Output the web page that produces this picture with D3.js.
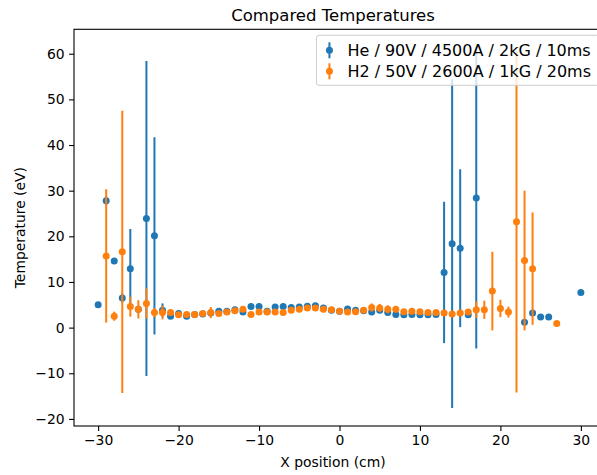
<!DOCTYPE html>
<html>
<head>
<meta charset="utf-8">
<script src="https://cdn.jsdelivr.net/npm/d3@7"></script>
<style>
  body { margin: 0; background: #fff; }
  svg { display: block; font-family: 'DejaVu Sans', sans-serif; }
</style>
</head>
<body>
<svg id="chart" width="597" height="475"></svg>
<script>
// He / 90V / 4500A / 2kG / 10ms
let heX = [-30, -29, -28, -27, -26, -25, -24, -23, -22, -21, -20, -19, -18, -17, -16, -15, -14, -13, -12, -11, -10, -9, -8, -7, -6, -5, -4, -3, -2, -1, 0, 1, 2, 3, 4, 5, 6, 7, 8, 9, 10, 11, 12, 13, 14, 15, 16, 17, 23, 24, 25, 26, 30]
let heT = [5.0, 27.8, 14.6, 6.5, 12.9, 4.0, 23.9, 20.1, 3.8, 2.5, 3.1, 2.5, 2.9, 3.0, 3.2, 3.6, 3.6, 3.9, 3.4, 4.6, 4.6, 3.6, 4.5, 4.6, 4.4, 4.5, 4.7, 4.8, 4.3, 3.8, 3.6, 4.1, 3.8, 3.7, 3.4, 3.8, 3.3, 2.9, 2.8, 2.9, 2.8, 2.8, 2.9, 12.1, 18.4, 17.4, 2.8, 28.4, 1.2, 3.2, 2.3, 2.3, 7.7]
let heErr = [0.4, 1.0, 0.5, 1.0, 8.7, 0.8, 34.5, 21.6, 1.5, 0.4, 0.4, 0.3, 0.3, 0.3, 0.3, 0.3, 0.3, 0.3, 0.3, 0.3, 0.3, 0.3, 0.3, 0.3, 0.3, 0.3, 0.3, 0.3, 0.3, 0.3, 0.3, 0.3, 0.3, 0.3, 0.3, 0.3, 0.3, 0.3, 0.3, 0.3, 0.3, 0.3, 0.3, 15.5, 36.0, 17.3, 0.4, 33.0, 0.5, 0.5, 0.3, 0.3, 0.3]

// H2 / 50V / 2600A / 1kG / 20ms
let h2X = [-29, -28, -27, -26, -25, -24, -23, -22, -21, -20, -19, -18, -17, -16, -15, -14, -13, -12, -11, -10, -9, -8, -7, -6, -5, -4, -3, -2, -1, 0, 1, 2, 3, 4, 5, 6, 7, 8, 9, 10, 11, 12, 13, 14, 15, 16, 17, 18, 19, 20, 21, 22, 23, 24, 27]
let h2T = [15.7, 2.5, 16.6, 4.6, 4.0, 5.3, 3.3, 3.3, 3.3, 2.8, 2.9, 2.9, 3.1, 3.3, 3.1, 3.4, 3.7, 4.0, 2.9, 3.4, 3.4, 3.4, 3.3, 3.8, 4.0, 4.3, 4.3, 4.0, 3.9, 3.6, 3.4, 3.5, 3.8, 4.4, 4.3, 4.0, 4.0, 3.5, 3.6, 3.5, 3.3, 3.3, 3.2, 3.0, 3.2, 3.4, 3.9, 3.9, 8.0, 4.2, 3.4, 23.2, 14.7, 12.9, 0.9]
let h2Err = [14.6, 1.0, 30.9, 2.2, 2.0, 3.3, 1.0, 1.5, 0.5, 0.3, 0.3, 0.3, 0.3, 1.2, 0.3, 0.3, 0.3, 0.3, 0.3, 0.3, 0.3, 0.3, 0.3, 0.3, 0.3, 0.3, 0.3, 0.3, 0.3, 0.3, 0.3, 0.3, 0.3, 0.9, 0.9, 0.9, 0.3, 0.3, 0.3, 0.3, 0.3, 0.3, 0.3, 0.3, 0.3, 0.3, 1.8, 2.0, 8.6, 1.9, 1.2, 37.4, 15.3, 12.3, 0.3]

let seriesNames = ['He / 90V / 4500A / 2kG / 10ms', 'H2 / 50V / 2600A / 1kG / 20ms']
let seriesColors = ['#1f77b4', '#ff7f0e']
let xTicks = [-30, -20, -10, 0, 10, 20, 30]
let yTicks = [-20, -10, 0, 10, 20, 30, 40, 50, 60]

let series = [
  { name: seriesNames[0], color: seriesColors[0], pts: heX.map((x, i) => ({ x: x, y: heT[i], e: heErr[i] })) },
  { name: seriesNames[1], color: seriesColors[1], pts: h2X.map((x, i) => ({ x: x, y: h2T[i], e: h2Err[i] })) }
]

let margin = { top: 29.3, left: 74, bottom: 49, right: -8 }
let width = 597 - margin.left - margin.right
let height = 475 - margin.top - margin.bottom
let fs = 13.9
let legendFs = 16

// matplotlib style 5% padding on data limits
let allPts = series[0].pts.concat(series[1].pts)
let xmin = d3.min(allPts, d => d.x), xmax = d3.max(allPts, d => d.x)
let ymin = d3.min(allPts, d => d.y - d.e), ymax = d3.max(allPts, d => d.y + d.e)
let xpad = (xmax - xmin) * 0.05, ypad = (ymax - ymin) * 0.05

let x = d3.scaleLinear().domain([xmin - xpad, xmax + xpad]).range([0, width])
let y = d3.scaleLinear().domain([ymin - ypad, ymax + ypad]).range([height, 0])

let svg = d3.select('#chart')
let chart = svg.append('g')
  .attr('transform', 'translate(' + margin.left + ',' + margin.top + ')')

chart.append('defs').append('clipPath').attr('id', 'clip')
  .append('rect').attr('width', width).attr('height', height)

let plot = chart.append('g').attr('clip-path', 'url(#clip)')

series.forEach(s => {
  let g = plot.append('g')
  g.selectAll('line.err')
    .data(s.pts)
    .enter()
    .append('line')
    .attr('class', 'err')
    .attr('x1', d => x(d.x)).attr('x2', d => x(d.x))
    .attr('y1', d => y(d.y - d.e)).attr('y2', d => y(d.y + d.e))
    .attr('stroke', s.color)
    .attr('stroke-width', 2)
  g.selectAll('circle')
    .data(s.pts)
    .enter()
    .append('circle')
    .attr('cx', d => x(d.x))
    .attr('cy', d => y(d.y))
    .attr('r', 3.5)
    .attr('fill', s.color)
})

// axes
let xAxis = d3.axisBottom(x).tickValues(xTicks).tickSize(4.9).tickPadding(4.5).tickSizeOuter(0)
let yAxis = d3.axisLeft(y).tickValues(yTicks).tickSize(4.9).tickPadding(4.5).tickSizeOuter(0)

let gx = chart.append('g').attr('transform', 'translate(0,' + height + ')').call(xAxis)
let gy = chart.append('g').call(yAxis)
chart.selectAll('.domain').remove()
chart.selectAll('.tick line').attr('stroke', '#000').attr('stroke-width', 1.1)
chart.selectAll('.tick text').attr('font-size', fs).attr('fill', '#000').attr('font-family', 'DejaVu Sans')

// spines
chart.append('rect')
  .attr('width', width).attr('height', height)
  .attr('fill', 'none').attr('stroke', '#000').attr('stroke-width', 1.1)

chart.append('text')
  .attr('x', width / 2 - 6.5).attr('y', height + 41)
  .attr('text-anchor', 'middle')
  .attr('font-size', fs)
  .text('X position (cm)')

svg.append('text')
  .attr('transform', 'translate(25,' + (margin.top + height / 2) + ') rotate(-90)')
  .attr('text-anchor', 'middle')
  .attr('font-size', fs)
  .text('Temperature (eV)')

chart.append('text')
  .attr('x', width / 2 - 6.5).attr('y', -8)
  .attr('text-anchor', 'middle')
  .attr('font-size', 16.5)
  .text('Compared Temperatures')

// legend, upper right, sized to the reference
let legend = chart.append('g')
let box = legend.append('rect')
let labels = []
series.forEach((s, i) => {
  let t = legend.append('text')
    .attr('font-size', legendFs)
    .attr('dy', '0.35em')
    .text(s.name)
  labels.push(t)
})
let textW = d3.max(labels, t => t.node().getComputedTextLength())
let textEnd = width - 14
let textStart = textEnd - textW
let bx = textStart - 31
let by = 6
let boxW = width - 6 - bx
let boxH = 50
box.attr('x', bx).attr('y', by).attr('width', boxW).attr('height', boxH)
  .attr('rx', 2.5)
  .attr('fill', '#fff').attr('fill-opacity', 0.8)
  .attr('stroke', '#cccccc').attr('stroke-width', 1)
series.forEach((s, i) => {
  let cy = by + 15 + i * 21
  let hx = textStart - 18
  legend.append('line')
    .attr('x1', hx).attr('x2', hx)
    .attr('y1', cy - 8).attr('y2', cy + 8)
    .attr('stroke', s.color).attr('stroke-width', 2)
  legend.append('circle')
    .attr('cx', hx).attr('cy', cy).attr('r', 3.5)
    .attr('fill', s.color)
  labels[i].attr('x', textStart).attr('y', cy)
})
</script>
</body>
</html>
